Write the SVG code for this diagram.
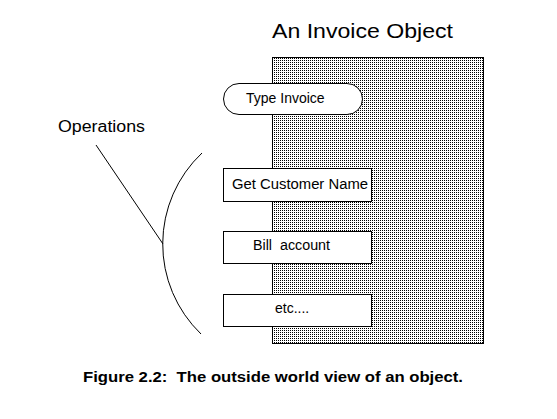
<svg xmlns="http://www.w3.org/2000/svg" width="557" height="419" viewBox="0 0 557 419">
<style>
.t{font-family:"Liberation Sans",Arial,sans-serif;fill:#000}
.box{fill:#fff;stroke:#000;stroke-width:1}
.ln{fill:none;stroke:#000;stroke-width:1}
</style>
<defs>
<pattern id="dots" x="0" y="0" width="2" height="2" patternUnits="userSpaceOnUse">
<rect x="0" y="0" width="2" height="2" fill="#fff"/>
<rect x="0" y="0" width="1" height="1" fill="#000"/>
</pattern>
</defs>
<rect width="557" height="419" fill="#fff"/>
<text class="t" x="272" y="38" font-size="20" textLength="181" lengthAdjust="spacingAndGlyphs">An Invoice Object</text>
<g id="object">
<rect x="272.5" y="57.5" width="211" height="286" fill="url(#dots)" stroke="#000"/>
</g>
<g id="type-invoice">
<rect class="box" x="223.5" y="83.5" width="139" height="31" rx="15.5" ry="15.5"/>
<text class="t" x="246" y="103" font-size="14">Type Invoice</text>
</g>
<g id="get-customer-name">
<rect class="box" x="223.5" y="168.5" width="148" height="33"/>
<text class="t" x="232" y="189" font-size="14" textLength="136" lengthAdjust="spacingAndGlyphs">Get Customer Name</text>
</g>
<g id="bill-account">
<rect class="box" x="223.5" y="231.5" width="148" height="32"/>
<text class="t" x="253" y="250" font-size="14" xml:space="preserve" textLength="77" lengthAdjust="spacingAndGlyphs">Bill  account</text>
</g>
<g id="etc">
<rect class="box" x="223.5" y="294.5" width="148" height="32"/>
<text class="t" x="275" y="313" font-size="14">etc....</text>
</g>
<g id="operations">
<text class="t" x="58" y="132" font-size="16" textLength="87" lengthAdjust="spacingAndGlyphs">Operations</text>
</g>
<g id="connectors">
<path class="ln" d="M202,153 A125,125 0 0 0 201,334"/>
<path class="ln" d="M96,145 L163,244"/>
</g>
<text class="t" x="83" y="382" font-size="14" font-weight="bold" xml:space="preserve" textLength="380" lengthAdjust="spacingAndGlyphs">Figure 2.2:  The outside world view of an object.</text>
</svg>
